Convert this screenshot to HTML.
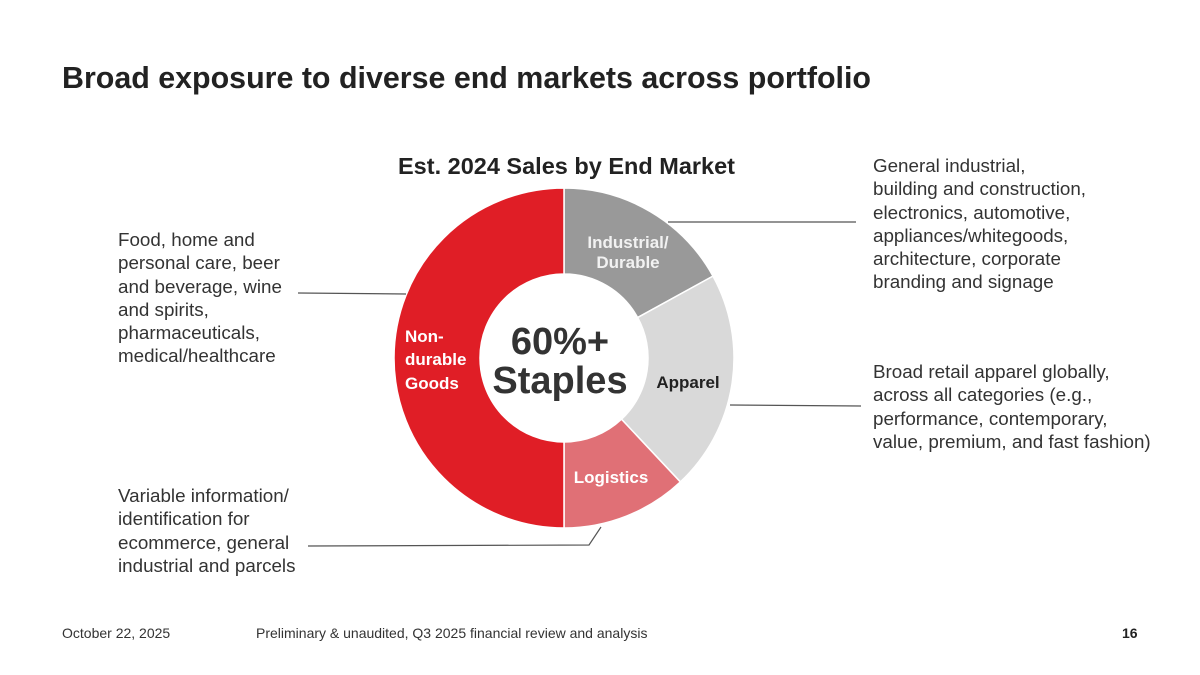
<!DOCTYPE html>
<html><head><meta charset="utf-8"><style>
body{margin:0;width:1200px;height:675px;background:#fff;font-family:"Liberation Sans",sans-serif;color:#333;position:relative;overflow:hidden}
.t{position:absolute;white-space:nowrap}
.lbl{font-size:18.8px;line-height:23.3px;color:#333}
</style></head><body>
<div class="t" style="left:62px;top:61px;font-size:30.4px;font-weight:bold;color:#222">Broad exposure to diverse end markets across portfolio</div>
<div class="t" style="left:398px;top:153px;font-size:23.5px;font-weight:bold;color:#222">Est. 2024 Sales by End Market</div>
<div class="t lbl" style="left:118px;top:228px">Food, home and<br>personal care, beer<br>and beverage, wine<br>and spirits,<br>pharmaceuticals,<br>medical/healthcare</div>
<div class="t lbl" style="left:873px;top:154px">General industrial,<br>building and construction,<br>electronics, automotive,<br>appliances/whitegoods,<br>architecture, corporate<br>branding and signage</div>
<div class="t lbl" style="left:873px;top:360px">Broad retail apparel globally,<br>across all categories (e.g.,<br>performance, contemporary,<br>value, premium, and fast fashion)</div>
<div class="t lbl" style="left:118px;top:484px">Variable information/<br>identification for<br>ecommerce, general<br>industrial and parcels</div>
<svg id="c" width="1200" height="675" style="position:absolute;left:0;top:0">
<g id="segs"></g>
<g stroke="#555" stroke-width="1.2" fill="none">
<polyline points="668,222 856,222"/>
<polyline points="298,293 406,294"/>
<polyline points="730,405 861,406"/>
<polyline points="308,546 589,545 601,527"/>
</g>
<g font-family="Liberation Sans, sans-serif" font-weight="bold" font-size="17" text-anchor="middle">
<text x="628" y="248" fill="#f2f2f2">Industrial/</text>
<text x="628" y="268" fill="#f2f2f2">Durable</text>
<text x="688" y="388" fill="#222">Apparel</text>
<text x="611" y="483" fill="#fff">Logistics</text>
<text x="405" y="342" fill="#fff" text-anchor="start">Non-</text>
<text x="405" y="365" fill="#fff" text-anchor="start">durable</text>
<text x="405" y="389" fill="#fff" text-anchor="start">Goods</text>
<text x="560" y="354" font-size="38" fill="#333">60%+</text>
<text x="560" y="393" font-size="38" fill="#333">Staples</text>
</g>
</svg>
<div class="t" style="left:62px;top:625px;font-size:14px;color:#333">October 22, 2025</div>
<div class="t" style="left:256px;top:625px;font-size:14px;color:#333">Preliminary &amp; unaudited, Q3 2025 financial review and analysis</div>
<div class="t" style="left:1122px;top:625px;font-size:14px;font-weight:bold;color:#222">16</div>
<script>
const categories=["Industrial/Durable","Apparel","Logistics","Non-durable Goods"];
const values=[17,21,12,50];
const colors=["#999999","#d9d9d9","#e07076","#e01e26"];
const cx=564,cy=358,R=170,r=84;
const g=document.getElementById('segs');
const total=values.reduce((a,b)=>a+b,0);
function pt(rad,a){return [cx+rad*Math.sin(a),cy-rad*Math.cos(a)];}
let a0=0;
values.forEach((v,i)=>{
const a1=a0+v/total*2*Math.PI;const L=(a1-a0)>Math.PI?1:0;
const p1=pt(R,a0),p2=pt(R,a1),p3=pt(r,a1),p4=pt(r,a0);
const p=document.createElementNS('http://www.w3.org/2000/svg','path');
p.setAttribute('d',`M${p1}A${R},${R} 0 ${L} 1 ${p2}L${p3}A${r},${r} 0 ${L} 0 ${p4}Z`);
p.setAttribute('fill',colors[i]);p.setAttribute('stroke','#fff');p.setAttribute('stroke-width','1.5');


g.appendChild(p);a0=a1;});
</script>
</body></html>
